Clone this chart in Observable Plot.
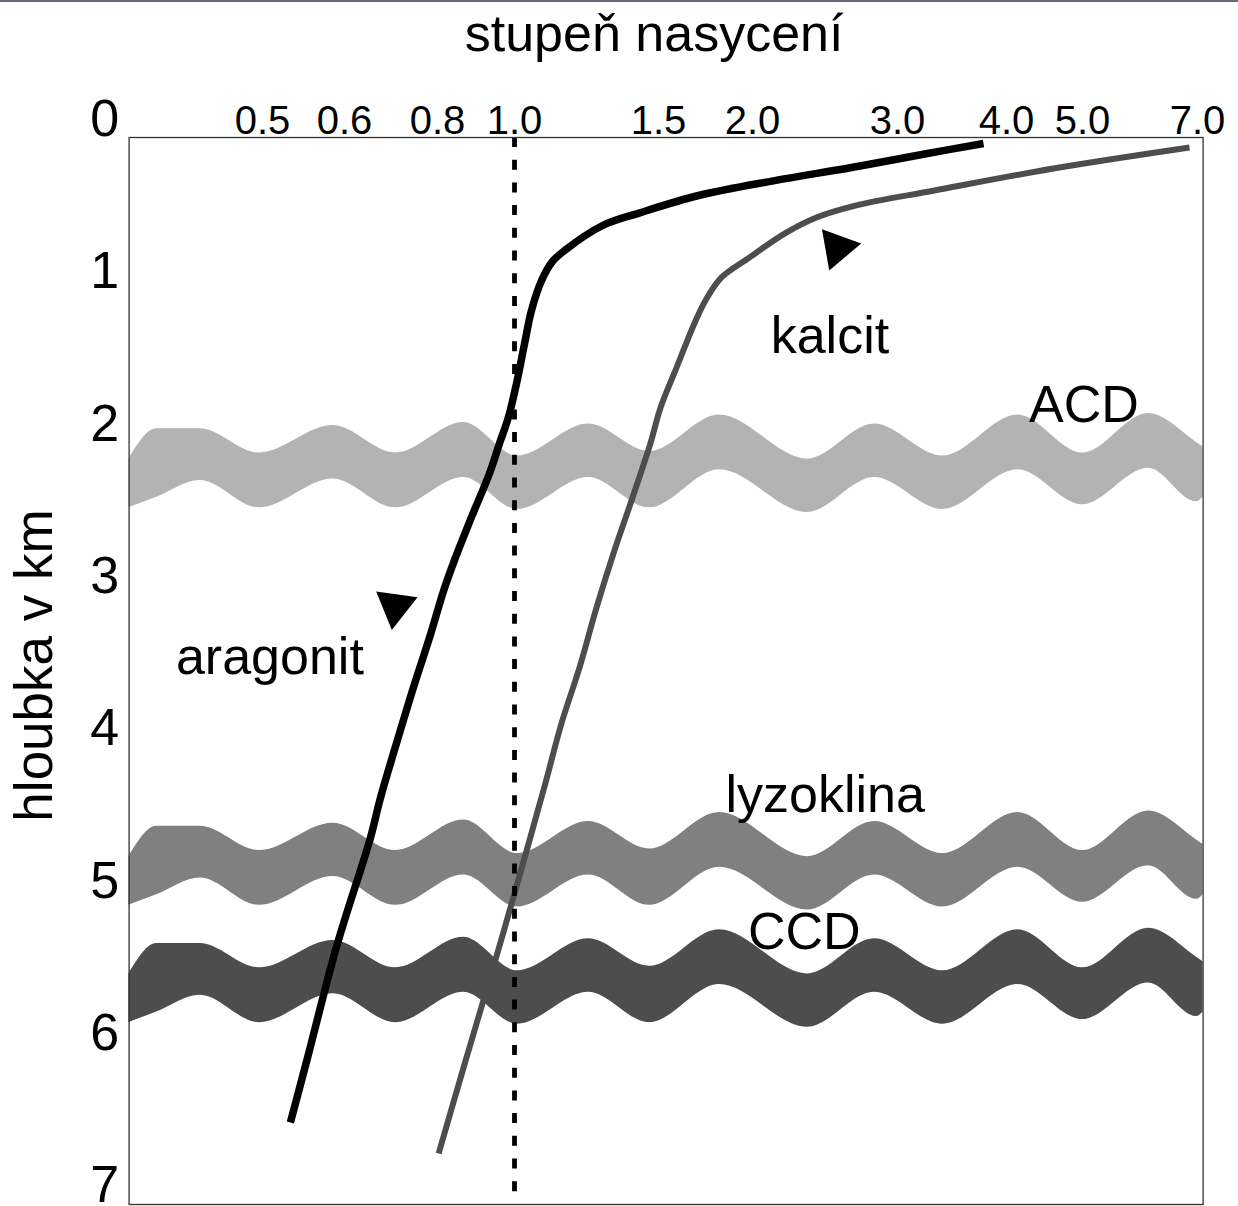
<!DOCTYPE html>
<html>
<head>
<meta charset="utf-8">
<script src="https://cdn.jsdelivr.net/npm/d3@7"></script>
<script src="https://cdn.jsdelivr.net/npm/@observablehq/plot@0.6"></script>
<style>
  html, body { margin: 0; padding: 0; background: #fff; }
  #wrap { position: relative; width: 1238px; height: 1206px; overflow: hidden; }
  #wrap svg { display: block; position: absolute; left: 0; top: 0; }
  #topline { position: absolute; left: 0; top: 0; width: 1238px; height: 2px; background: #676b77; z-index: 2; }
</style>
</head>
<body>
<div id="wrap"><div id="topline"></div></div>
<script>
// ---- axis ticks ----
const xTicks = [0.5, 0.6, 0.8, 1.0, 1.5, 2.0, 3.0, 4.0, 5.0, 7.0];
const yTicks = [0, 1, 2, 3, 4, 5, 6, 7];

// ---- saturation curves (degree of saturation vs depth in km) ----
const aragonitSat   = [3.789, 3.275, 2.683, 2.152, 1.713, 1.438, 1.306, 1.174, 1.132, 1.094, 1.059, 1.035, 1.007, 0.984, 0.961, 0.935, 0.888, 0.844, 0.816, 0.783, 0.751, 0.720, 0.677, 0.656, 0.590, 0.555, 0.534];
const aragonitDepth = [0.158, 0.223, 0.315, 0.401, 0.499, 0.611, 0.696, 0.860, 0.932, 1.057, 1.254, 1.471, 1.733, 1.957, 2.127, 2.324, 2.613, 2.895, 3.093, 3.401, 3.703, 4.012, 4.458, 4.714, 5.437, 6.159, 6.586];

const kalcitSat   = [6.861, 4.618, 3.339, 2.710, 2.441, 2.221, 1.984, 1.835, 1.750, 1.691, 1.590, 1.511, 1.472, 1.410, 1.347, 1.285, 1.226, 1.163, 1.108, 1.000, 0.950, 0.873, 0.803];
const kalcitDepth = [0.184, 0.322, 0.466, 0.565, 0.643, 0.749, 0.906, 1.037, 1.188, 1.339, 1.648, 1.891, 2.127, 2.482, 2.830, 3.204, 3.598, 3.966, 4.353, 5.082, 5.522, 6.179, 6.789];

// ---- wavy horizons (shared x positions, top / bottom depth of each band) ----
const waveSat   = [0.337, 0.371, 0.424, 0.496, 0.586, 0.710, 0.868, 1.010, 1.257, 1.469, 1.824, 2.379, 2.841, 3.413, 4.151, 5.000, 6.148, 6.983, 7.097];
const acdTop    = [2.23, 2.03, 2.03, 2.19, 2.01, 2.19, 1.99, 2.21, 2.00, 2.18, 1.94, 2.23, 2.00, 2.21, 1.94, 2.19, 1.93, 2.12, 2.15];
const acdBottom = [2.55, 2.48, 2.37, 2.55, 2.36, 2.55, 2.35, 2.56, 2.35, 2.55, 2.30, 2.58, 2.35, 2.56, 2.30, 2.53, 2.29, 2.51, 2.48];
const lyzTop    = [4.84, 4.64, 4.64, 4.80, 4.62, 4.80, 4.60, 4.82, 4.61, 4.79, 4.55, 4.84, 4.61, 4.82, 4.55, 4.80, 4.54, 4.73, 4.76];
const lyzBottom = [5.16, 5.09, 4.98, 5.16, 4.97, 5.16, 4.96, 5.17, 4.96, 5.16, 4.91, 5.19, 4.96, 5.17, 4.91, 5.14, 4.90, 5.12, 5.09];
const ccdTop    = [5.61, 5.41, 5.41, 5.57, 5.39, 5.57, 5.37, 5.59, 5.38, 5.56, 5.32, 5.61, 5.38, 5.59, 5.32, 5.57, 5.31, 5.50, 5.53];
const ccdBottom = [5.93, 5.86, 5.75, 5.93, 5.74, 5.93, 5.73, 5.94, 5.73, 5.93, 5.68, 5.96, 5.73, 5.94, 5.68, 5.91, 5.67, 5.89, 5.86];

// ---- annotations ----
const labelText  = ["kalcit", "aragonit", "ACD", "lyzoklina", "CCD"];
const labelSat   = [2.534, 0.509, 5.026, 2.501, 2.357];
const labelDepth = [1.536, 3.640, 1.988, 4.548, 5.445];

const arrowCurve = ["aragonit", "kalcit"];
const arrowSat   = [0.709, 2.586];
const arrowDepth = [3.196, 0.842];

const titleText  = "stupeň nasycení";
const yTitleText = "hloubka v km";

// ---- build tables ----
const aragonit = aragonitSat.map((s, i) => ({sat: s, depth: aragonitDepth[i]}));
const kalcit = kalcitSat.map((s, i) => ({sat: s, depth: kalcitDepth[i]}));
const band = (top, bottom) => waveSat.map((s, i) => ({sat: s, top: top[i], bottom: bottom[i]}));
const acd = band(acdTop, acdBottom);
const lyz = band(lyzTop, lyzBottom);
const ccd = band(ccdTop, ccdBottom);
const labels = labelText.map((t, i) => ({text: t, sat: labelSat[i], depth: labelDepth[i]}));
const arrows = arrowCurve.map((c, i) => ({curve: c, sat: arrowSat[i], depth: arrowDepth[i]}));

const FONT = "'Liberation Sans', Arial, Helvetica, sans-serif";

const chart = Plot.plot({
  width: 1238,
  height: 1206,
  marginTop: 137,
  marginLeft: 128.6,
  marginRight: 35.4,
  marginBottom: 2,
  style: {fontFamily: FONT, background: "#fff", color: "#000", overflow: "visible"},
  x: {type: "linear", domain: xTicks, range: [262, 344, 437, 514, 658, 752, 897, 1006, 1082, 1197]},
  y: {domain: [0, 7], range: [119, 1185.1]},
  marks: [
    Plot.areaY(acd, {x: "sat", y1: "top", y2: "bottom", fill: "#b3b3b3", curve: "monotone-x"}),
    Plot.areaY(lyz, {x: "sat", y1: "top", y2: "bottom", fill: "#808080", curve: "monotone-x"}),
    Plot.areaY(ccd, {x: "sat", y1: "top", y2: "bottom", fill: "#4d4d4d", curve: "monotone-x"}),
    Plot.line(kalcit, {x: "sat", y: "depth", stroke: "#4d4d4d", strokeWidth: 6, curve: "catmull-rom", strokeLinecap: "butt", strokeLinejoin: "round"}),
    Plot.line(aragonit, {x: "sat", y: "depth", stroke: "#000", strokeWidth: 7.5, curve: "catmull-rom", strokeLinecap: "butt", strokeLinejoin: "round"}),
    Plot.ruleX([1.0], {stroke: "#000", strokeWidth: 4.8, strokeDasharray: "10,12.7"}),
    Plot.dot(arrows.filter(d => d.curve === "aragonit"), {x: "sat", y: "depth", symbol: "triangle", r: 15.5, fill: "#000", stroke: null, rotate: 188}),
    Plot.dot(arrows.filter(d => d.curve === "kalcit"), {x: "sat", y: "depth", symbol: "triangle", r: 15.5, fill: "#000", stroke: null, rotate: 80}),
    Plot.text(labels, {x: "sat", y: "depth", text: "text", fontSize: 52, textAnchor: "middle", lineAnchor: "bottom", fill: "#000"}),
    Plot.axisX(xTicks, {anchor: "top", tickSize: 0, tickPadding: 4, fontSize: 40, tickFormat: d => d.toFixed(1), label: null}),
    Plot.axisY(yTicks, {anchor: "left", tickSize: 0, tickPadding: 10, fontSize: 52, tickFormat: d => String(d), label: null}),
    Plot.text([titleText], {text: d => d, frameAnchor: "top", dx: -12, dy: -87, fontSize: 52, textAnchor: "middle", lineAnchor: "bottom"}),
    Plot.text([yTitleText], {text: d => d, frameAnchor: "left", rotate: -90, dx: -77, dy: -5.5, fontSize: 53, textAnchor: "middle", lineAnchor: "bottom"}),
    Plot.frame({stroke: "#333", strokeWidth: 1.3})
  ]
});
document.getElementById("wrap").appendChild(chart);
</script>
</body>
</html>
